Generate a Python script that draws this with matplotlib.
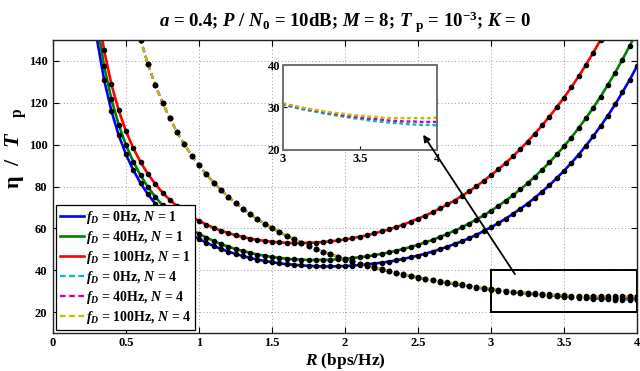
import numpy as np
import matplotlib
matplotlib.use('Agg')
import matplotlib.pyplot as plt
from matplotlib.patches import Rectangle

plt.rcParams['font.family'] = ['Liberation Serif', 'DejaVu Serif']
plt.rcParams['font.weight'] = 'bold'
plt.rcParams['mathtext.fontset'] = 'custom'
plt.rcParams['mathtext.rm'] = 'Liberation Serif:bold'
plt.rcParams['mathtext.it'] = 'Liberation Serif:italic:bold'
plt.rcParams['mathtext.bf'] = 'Liberation Serif:bold'
plt.rcParams['mathtext.sf'] = 'Liberation Serif'

# ---------------- data ----------------
R_n1 = np.round(np.arange(0.30, 4.0001, 0.05), 2)       # 75 samples
R_red = np.round(np.arange(0.30, 3.8001, 0.05), 2)      # 71 samples
R_n4 = np.round(np.arange(0.55, 4.0001, 0.05), 2)       # 70 samples

blue_n1 = [150.9, 131.0, 116.1, 104.5, 95.3, 87.8, 81.6, 76.3, 71.8, 68.0,
           64.7, 61.8, 59.2, 56.9, 54.9, 53.2, 51.6, 50.2, 48.9, 47.8,
           46.8, 45.9, 45.1, 44.4, 43.9, 43.3, 42.9, 42.6, 42.3, 42.1,
           41.9, 41.8, 41.8, 41.9, 42.0, 42.2, 42.5, 42.8, 43.2, 43.6,
           44.1, 44.7, 45.4, 46.2, 47.0, 47.9, 48.9, 50.0, 51.2, 52.5,
           53.8, 55.3, 56.9, 58.7, 60.5, 62.5, 64.6, 66.9, 69.3, 71.8,
           74.6, 77.5, 80.6, 84.0, 87.5, 91.2, 95.2, 99.5, 104.0, 108.8,
           113.8, 119.2, 125.0, 131.0, 137.5]

green_n1 = [158.7, 137.6, 121.8, 109.5, 99.8, 91.9, 85.3, 79.8, 75.1, 71.0,
            67.5, 64.5, 61.8, 59.5, 57.4, 55.6, 54.0, 52.5, 51.3, 50.1,
            49.2, 48.3, 47.5, 46.9, 46.3, 45.9, 45.5, 45.2, 45.1, 44.9,
            44.9, 44.9, 45.0, 45.2, 45.4, 45.8, 46.2, 46.6, 47.2, 47.8,
            48.5, 49.3, 50.2, 51.1, 52.2, 53.3, 54.5, 55.9, 57.3, 58.9,
            60.5, 62.3, 64.2, 66.2, 68.4, 70.7, 73.2, 75.8, 78.6, 81.5,
            84.7, 88.0, 91.5, 95.3, 99.2, 103.4, 107.9, 112.6, 117.6, 122.9,
            128.5, 134.4, 140.6, 147.2, 154.2]

red_n1 = [166.8, 145.1, 128.9, 116.4, 106.4, 98.3, 91.6, 86.0, 81.2, 77.1,
          73.6, 70.6, 67.9, 65.6, 63.6, 61.8, 60.3, 58.9, 57.8, 56.7,
          55.9, 55.1, 54.5, 54.0, 53.6, 53.3, 53.1, 53.0, 53.0, 53.1,
          53.2, 53.5, 53.8, 54.2, 54.7, 55.3, 56.0, 56.7, 57.6, 58.5,
          59.5, 60.6, 61.8, 63.2, 64.6, 66.1, 67.7, 69.5, 71.4, 73.3,
          75.5, 77.7, 80.1, 82.7, 85.4, 88.2, 91.2, 94.4, 97.8, 101.4,
          105.2, 109.2, 113.4, 117.8, 122.5, 127.4, 132.6, 138.1, 143.9, 150.0,
          156.4]

yellow_n4 = [163.7, 150.0, 138.5, 128.6, 120.1, 112.6, 105.9, 100.1, 94.8, 90.1,
             85.8, 81.9, 78.4, 75.1, 72.1, 69.4, 66.8, 64.4, 62.2, 60.2,
             58.2, 56.4, 54.8, 53.2, 51.7, 50.3, 48.9, 47.7, 46.5, 45.3,
             44.3, 43.2, 42.3, 41.4, 40.5, 39.6, 38.8, 38.1, 37.4, 36.7,
             36.0, 35.4, 34.8, 34.2, 33.7, 33.2, 32.6, 32.0, 31.5, 31.0,
             30.6, 30.2, 29.8, 29.5, 29.2, 28.9, 28.7, 28.5, 28.2, 28.1,
             27.9, 27.8, 27.6, 27.5, 27.5, 27.5, 27.5, 27.5, 27.5, 27.6]

magenta_n4 = [163.7, 150.0, 138.5, 128.6, 120.1, 112.6, 105.9, 100.1, 94.8, 90.1,
              85.8, 81.9, 78.4, 75.1, 72.1, 69.4, 66.8, 64.4, 62.2, 60.2,
              58.2, 56.4, 54.8, 53.2, 51.7, 50.3, 48.9, 47.7, 46.5, 45.2,
              44.2, 43.1, 42.2, 41.3, 40.4, 39.5, 38.7, 38.0, 37.3, 36.5,
              35.9, 35.2, 34.6, 34.0, 33.5, 32.9, 32.4, 31.8, 31.3, 30.9,
              30.4, 30.0, 29.7, 29.3, 29.0, 28.7, 28.4, 28.1, 27.9, 27.6,
              27.4, 27.3, 27.1, 26.9, 26.8, 26.7, 26.7, 26.6, 26.6, 26.6]

cyan_n4 = [163.7, 150.0, 138.5, 128.6, 120.1, 112.6, 105.9, 100.1, 94.8, 90.1,
           85.8, 81.9, 78.4, 75.1, 72.1, 69.4, 66.8, 64.4, 62.2, 60.2,
           58.2, 56.4, 54.8, 53.2, 51.7, 50.3, 48.9, 47.7, 46.5, 45.1,
           44.1, 43.0, 42.1, 41.2, 40.3, 39.4, 38.6, 37.9, 37.2, 36.4,
           35.8, 35.1, 34.5, 33.9, 33.3, 32.8, 32.3, 31.6, 31.1, 30.7,
           30.2, 29.8, 29.4, 29.1, 28.7, 28.4, 28.1, 27.8, 27.5, 27.3,
           27.0, 26.8, 26.6, 26.4, 26.3, 26.1, 26.0, 25.9, 25.9, 25.8]

labels = [r'$f_D$ = 0Hz, $N$ = 1', r'$f_D$ = 40Hz, $N$ = 1', r'$f_D$ = 100Hz, $N$ = 1',
          r'$f_D$ = 0Hz, $N$ = 4', r'$f_D$ = 40Hz, $N$ = 4', r'$f_D$ = 100Hz, $N$ = 4']

x_ticks = [0, 0.5, 1, 1.5, 2, 2.5, 3, 3.5, 4]
y_ticks = [20, 40, 60, 80, 100, 120, 140]

# ---------------- figure ----------------
fig = plt.figure(figsize=(6.4, 3.71), dpi=100)
ax = fig.add_axes([53/640, 1-333/371, 584/640, 293/371])

C_BLUE, C_GREEN, C_RED = '#0000FF', '#008000', '#FF0000'
C_CYAN, C_MAG, C_YEL = '#00BFBF', '#BF00BF', '#BFBF00'

lw_s = 1.9
lw_d = 1.7
dash = (2.4, 1.5)

h = []
h += ax.plot(R_n1, blue_n1, color=C_BLUE, lw=lw_s, label=labels[0])
h += ax.plot(R_n1, green_n1, color=C_GREEN, lw=lw_s, label=labels[1])
h += ax.plot(R_red, red_n1, color=C_RED, lw=lw_s, label=labels[2])
h += ax.plot(R_n4, cyan_n4, color=C_CYAN, lw=lw_d, ls=(0, dash), label=labels[3])
h += ax.plot(R_n4, magenta_n4, color=C_MAG, lw=lw_d, ls=(0, dash), label=labels[4])
h += ax.plot(R_n4, yellow_n4, color=C_YEL, lw=lw_d, ls=(0, dash), label=labels[5])

for xs, ys in [(R_n1, blue_n1), (R_n1, green_n1), (R_red, red_n1),
               (R_n4, cyan_n4), (R_n4, magenta_n4), (R_n4, yellow_n4)]:
    ax.plot(xs, ys, ls='none', marker='o', ms=3.0, color='black', mec='black')

ax.set_xlim(0, 4)
ax.set_ylim(10, 150)
ax.set_xticks(x_ticks)
ax.set_xticklabels(['%g' % v for v in x_ticks])
ax.set_yticks(y_ticks)
ax.set_yticklabels(['%g' % v for v in y_ticks])
ax.tick_params(direction='in', top=True, right=True, length=4, width=0.8,
               labelsize=9)
ax.tick_params(axis='x', pad=3)
ax.tick_params(axis='y', pad=4)
for lab in ax.get_xticklabels() + ax.get_yticklabels():
    lab.set_fontweight('bold')
ax.grid(True, linestyle=(0, (1, 2.5)), color='#9a9a9a', linewidth=0.7)
for s in ax.spines.values():
    s.set_linewidth(1.0)
    s.set_color('#222222')

ax.set_xlabel(r'$R$ (bps/Hz)', fontsize=12.5, fontweight='bold')
ax.xaxis.set_label_coords(0.5, -0.097)
ax.xaxis.label.set_va('center')
ax.set_ylabel(r'η  /  $T$   $_{\mathsf{p}}$', fontsize=16, fontweight='bold')
ax.yaxis.set_label_coords(-0.063, 0.63)
ax.yaxis.label.set_va('center')
ax.set_title(r'$a$ = 0.4; $P$ / $N_{\mathit{0}}$ = 10dB; $M$ = 8; $T$ $_{\mathsf{p}}$ = 10$^{-3}$; $K$ = 0',
             fontsize=13.5, fontweight='bold', pad=9)

# zoom rectangle
ax.add_patch(Rectangle((3.0, 20), 1.0, 20, fill=False, ec='black', lw=1.4, zorder=5))

leg = ax.legend(handles=h, loc='lower left', fontsize=10, frameon=True, fancybox=False,
                edgecolor='black', borderaxespad=0.2, handlelength=1.7, handletextpad=0.15,
                labelspacing=0.22, borderpad=0.3)
leg.get_frame().set_linewidth(0.9)
leg.get_frame().set_alpha(1)

# inset
axin = fig.add_axes([283/640, 1-150/371, 154/640, 85/371])
axin.plot(R_n4, cyan_n4, color=C_CYAN, lw=lw_d, ls=(0, (1.6, 1.2)))
axin.plot(R_n4, magenta_n4, color=C_MAG, lw=lw_d, ls=(0, (1.6, 1.2)))
axin.plot(R_n4, yellow_n4, color=C_YEL, lw=lw_d, ls=(0, (1.6, 1.2)))
axin.set_xlim(3, 4)
axin.set_ylim(20, 40)
axin.set_xticks([3, 3.5, 4])
axin.set_xticklabels(['3', '3.5', '4'])
axin.set_yticks([20, 30, 40])
axin.set_yticklabels(['20', '30', '40'])
axin.tick_params(direction='in', length=3, labelsize=9, pad=2)
for lab in axin.get_xticklabels() + axin.get_yticklabels():
    lab.set_fontweight('bold')
for s in axin.spines.values():
    s.set_linewidth(1.4)
    s.set_color('#707070')

# arrow (drawn on the inset so the tip stays visible above its background)
axin.annotate('', xy=(3.91, 23.6), xycoords='data',
              xytext=(3.164, 38.1), textcoords=ax.transData,
              arrowprops=dict(arrowstyle='-|>', color='black', lw=1.3,
                              mutation_scale=10, shrinkA=0, shrinkB=0),
              annotation_clip=False, zorder=6)

fig.savefig('out.png', dpi=100)
